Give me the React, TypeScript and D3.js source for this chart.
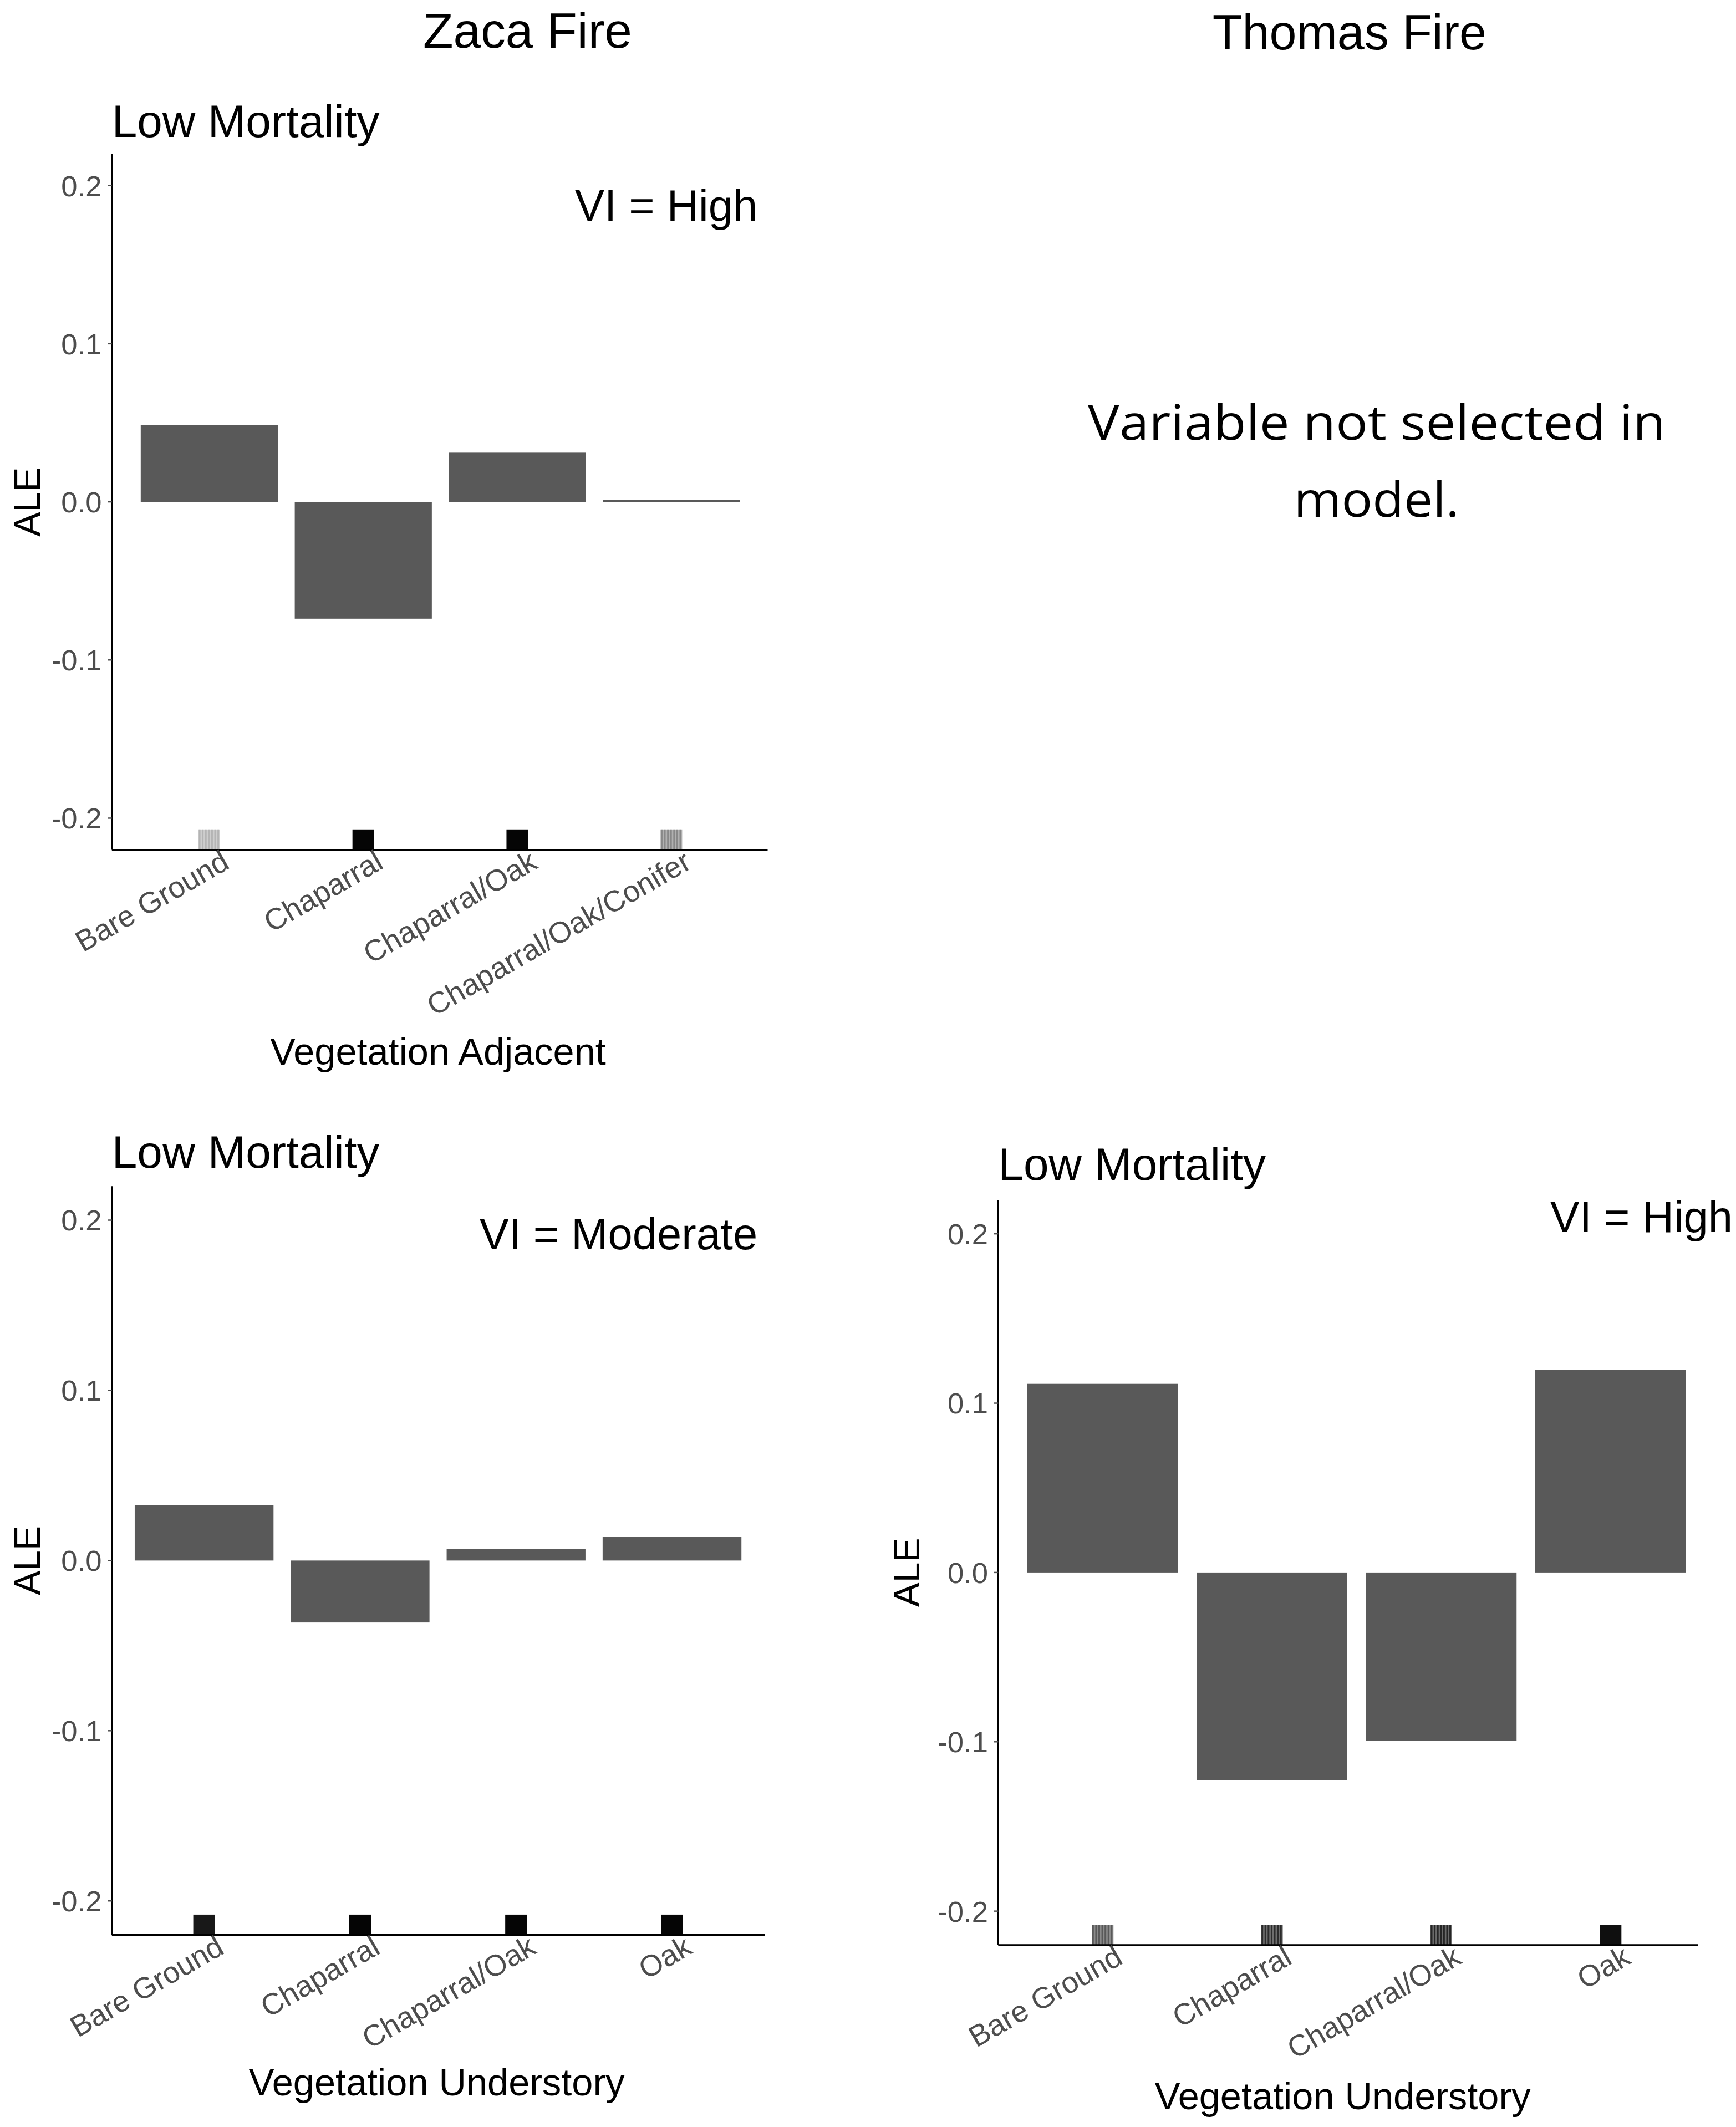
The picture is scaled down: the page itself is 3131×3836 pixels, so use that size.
import React from "react";
import * as d3 from "d3";

// ---------- data ----------
const fireTitles = ["Zaca Fire", "Thomas Fire"];
const adjacentCategories = ["Bare Ground", "Chaparral", "Chaparral/Oak", "Chaparral/Oak/Conifer"];
const understoryCategories = ["Bare Ground", "Chaparral", "Chaparral/Oak", "Oak"];
const zacaAdjacentALE = [0.0485, -0.0739, 0.0311, 0.0012];
const zacaUnderstoryALE = [0.0326, -0.0364, 0.0069, 0.0138];
const thomasUnderstoryALE = [0.1114, -0.1228, -0.0995, 0.1196];
// rug darkness per category (0 = white, 1 = black)
const zacaAdjacentRug = [0.4, 1, 1, 0.55];
const zacaUnderstoryRug = [0.92, 1, 1, 1];
const thomasUnderstoryRug = [0.72, 0.86, 0.88, 0.95];
const yTicks = [-0.2, -0.1, 0.0, 0.1, 0.2];
const yDomain = [-0.22, 0.22];
const notSelectedLines = ["Variable not selected in", "model."];

// ---------- layout ----------
const W = 1280;
const H = 1568.2;
const FONT = "'Liberation Sans', Arial, Helvetica, sans-serif";
const BAR = "#595959";
const TICKGREY = "#4d4d4d";

type PanelProps = {
  cats: string[];
  vals: number[];
  rug: number[];
  left: number;
  right: number;
  padL: number;
  padR: number;
  top: number;
  bottom: number;
  title: string;
  titleY: number;
  vi: string;
  viX: number;
  viY: number;
  xTitle: string;
  xTitleX: number;
  xTitleY: number;
  aleX: number;
};

const fmt = (t: number) => d3.format(".1f")(t).replace("\u2212", "-");

function Panel(p: PanelProps) {
  const x = d3.scalePoint<string>().domain(p.cats).range([p.left + p.padL, p.right - p.padR]).padding(0);
  const y = d3.scaleLinear().domain(yDomain).range([p.bottom, p.top]);
  const bw = x.step() * 0.89;
  const rugW = 16;
  const rugH = 15;
  return (
    <g fontFamily={FONT}>
      <text x={p.left} y={p.titleY} fontSize={33.5} fill="#000">{p.title}</text>
      <text x={p.viX} y={p.viY} fontSize={32.5} textAnchor="end" fill="#000">{p.vi}</text>
      {/* bars */}
      {p.cats.map((c, i) => {
        const v = p.vals[i];
        const y0 = y(Math.max(0, v));
        const y1 = y(Math.min(0, v));
        return (
          <rect key={c} x={(x(c) as number) - bw / 2} y={y0} width={bw} height={Math.max(1.2, y1 - y0)} fill={BAR} />
        );
      })}
      {/* rugs */}
      {p.cats.map((c, i) => {
        const s = p.rug[i];
        const cx = x(c) as number;
        const col = d3.interpolateGreys(s);
        if (s >= 0.9) {
          return <rect key={"r" + c} x={cx - rugW / 2} y={p.bottom - rugH} width={rugW} height={rugH} fill={s >= 0.99 ? "#050505" : col} />;
        }
        const stripes = d3.range(7);
        return (
          <g key={"r" + c}>
            <rect x={cx - rugW / 2} y={p.bottom - rugH} width={rugW} height={rugH} fill={d3.interpolateGreys(s * 0.75)} />
            {stripes.map((k) => (
              <rect key={k} x={cx - rugW / 2 + k * (rugW / 7) + 0.3} y={p.bottom - rugH} width={1.2} height={rugH} fill={col} />
            ))}
          </g>
        );
      })}
      {/* axes */}
      <line x1={p.left} x2={p.left} y1={p.top} y2={p.bottom} stroke="#000" strokeWidth={1.3} />
      <line x1={p.left} x2={p.right} y1={p.bottom} y2={p.bottom} stroke="#000" strokeWidth={1.3} />
      {yTicks.map((t) => (
        <g key={t}>
          <line x1={p.left - 3} x2={p.left} y1={y(t)} y2={y(t)} stroke={TICKGREY} strokeWidth={1} />
          <text x={p.left - 7.5} y={y(t)} dy="0.36em" fontSize={21.5} textAnchor="end" fill={TICKGREY}>
            {fmt(t)}
          </text>
        </g>
      ))}
      {p.cats.map((c) => {
        const cx = x(c) as number;
        return (
          <text
            key={"l" + c}
            transform={`translate(${cx + 16},${p.bottom + 13}) rotate(-30)`}
            fontSize={22}
            textAnchor="end"
            fill={TICKGREY}
          >
            {c}
          </text>
        );
      })}
      <text x={p.xTitleX} y={p.xTitleY} fontSize={28} textAnchor="middle" fill="#000">{p.xTitle}</text>
      <text
        transform={`translate(${p.aleX},${y(0)}) rotate(-90)`}
        fontSize={27}
        textAnchor="middle"
        fill="#000"
      >
        ALE
      </text>
    </g>
  );
}

export default function App() {
  return (
    <svg
      width={3131}
      height={3836}
      viewBox={`0 0 ${W} ${H}`}
      style={{ position: "absolute", left: 0, top: 0, display: "block", background: "#fff" }}
    >
      <rect x={0} y={0} width={W} height={H} fill="#fff" />
      <text x={389} y={35} fontSize={36.5} textAnchor="middle" fontFamily={FONT}>{fireTitles[0]}</text>
      <text x={995} y={36.5} fontSize={36} textAnchor="middle" fontFamily={FONT}>{fireTitles[1]}</text>

      <Panel
        cats={adjacentCategories}
        vals={zacaAdjacentALE}
        rug={zacaAdjacentRug}
        left={82.5}
        right={566}
        padL={71.8}
        padR={71}
        top={113.5}
        bottom={626.5}
        title="Low Mortality"
        titleY={101}
        vi="VI = High"
        viX={558.5}
        viY={162.5}
        xTitle="Vegetation Adjacent"
        xTitleX={323}
        xTitleY={785}
        aleX={29.5}
      />
      <Panel
        cats={understoryCategories}
        vals={zacaUnderstoryALE}
        rug={zacaUnderstoryRug}
        left={82.5}
        right={564}
        padL={68}
        padR={68.5}
        top={874.5}
        bottom={1426.6}
        title="Low Mortality"
        titleY={861}
        vi="VI = Moderate"
        viX={558.5}
        viY={921}
        xTitle="Vegetation Understory"
        xTitleX={322}
        xTitleY={1545}
        aleX={29.5}
      />
      <Panel
        cats={understoryCategories}
        vals={thomasUnderstoryALE}
        rug={thomasUnderstoryRug}
        left={736}
        right={1252}
        padL={77}
        padR={64.5}
        top={884.7}
        bottom={1434}
        title="Low Mortality"
        titleY={870}
        vi="VI = High"
        viX={1277.5}
        viY={908.5}
        xTitle="Vegetation Understory"
        xTitleX={990}
        xTitleY={1555}
        aleX={678}
      />

      {notSelectedLines.map((l, i) => (
        <text
          key={l}
          x={1015}
          y={324 + i * 57}
          fontSize={36}
          textAnchor="middle"
          fontFamily="'Open Sans', Lato, sans-serif"
          fill="#000"
          textLength={i === 0 ? 426 : 122}
          lengthAdjust="spacingAndGlyphs"
        >
          {l}
        </text>
      ))}
    </svg>
  );
}
